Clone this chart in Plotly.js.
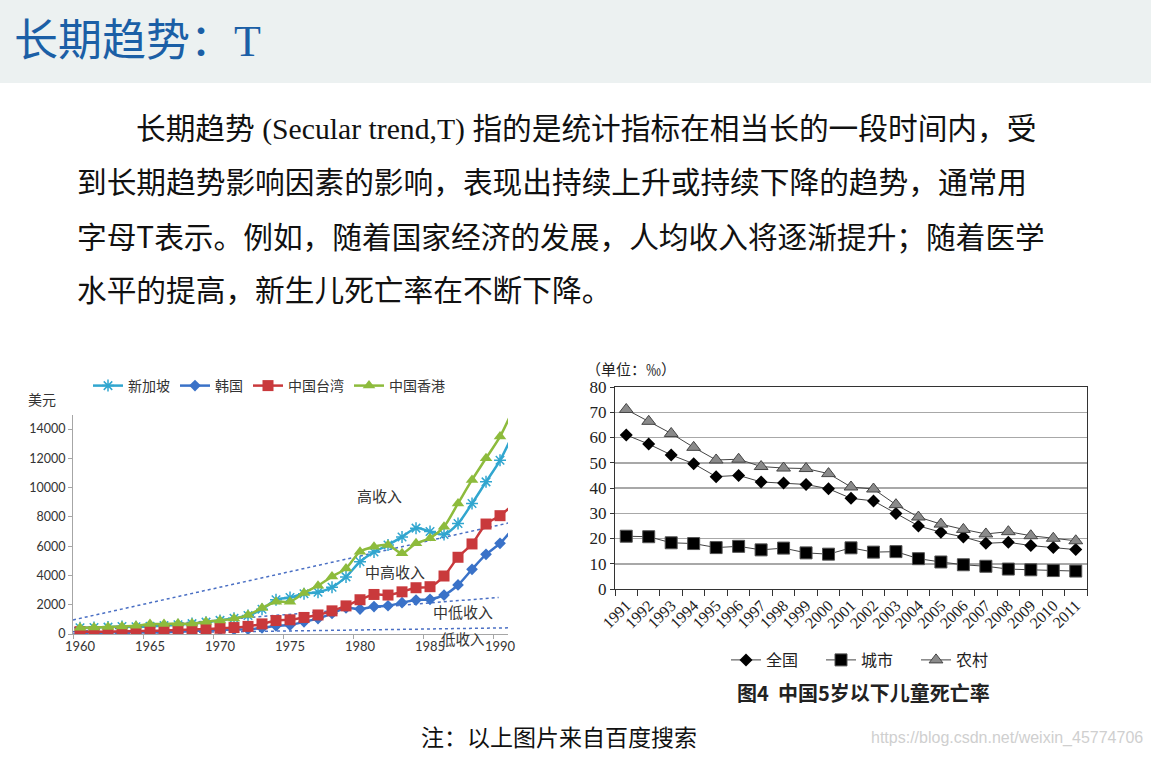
<!DOCTYPE html>
<html><head><meta charset="utf-8">
<script src="https://cdn.plot.ly/plotly-3.0.1.min.js"></script>
<style>html,body{margin:0;padding:0;background:#fff;} #chart{width:1151px;height:758px;}</style>
</head><body><div id="chart"></div>
<script>
// ---- Left chart: GDP per capita (US$) ----
const gdpYears = [1960,1961,1962,1963,1964,1965,1966,1967,1968,1969,1970,1971,1972,1973,1974,1975,1976,1977,1978,1979,1980,1981,1982,1983,1984,1985,1986,1987,1988,1989,1990,1991];
const singapore = [430,450,470,510,490,520,570,630,710,810,930,1070,1260,1690,2340,2490,2750,2850,3190,3900,4930,5600,6080,6630,7230,7000,6800,7540,8910,10390,11860,13800];
const korea     = [160,95,105,145,125,110,135,160,200,245,280,300,325,410,560,610,830,1050,1400,1780,1700,1870,1930,2140,2320,2370,2660,3350,4420,5440,6190,7300];
const taiwan    = [160,150,160,180,200,220,240,270,300,340,390,440,520,690,920,970,1130,1300,1580,1920,2340,2700,2660,2880,3160,3230,3960,5240,6150,7510,8080,8900];
const hongkong  = [430,450,480,520,560,680,690,710,710,830,930,1050,1300,1770,2200,2200,2800,3300,3920,4480,5620,5960,6080,5510,6190,6540,7330,8920,10520,12000,13480,15470];
const gdpSeriesNames = ['新加坡','韩国','中国台湾','中国香港'];
const gdpXTicks = [1960,1965,1970,1975,1980,1985,1990];
const gdpYTicks = [0,2000,4000,6000,8000,10000,12000,14000];
const gdpYTickText = ['0','2000','4000','6000','8000','10000','12000','14000'];
// income threshold trend lines (dotted)
const highIncomeX = [1959.5, 1990.6];   const highIncomeY = [960, 7580];
const upperMidX   = [1959.5, 1989.9];   const upperMidY   = [150, 2500];
const lowIncomeX  = [1959.5, 1990.6];   const lowIncomeY  = [0, 420];
const incomeLabels = ['高收入','中高收入','中低收入','低收入'];

// ---- Right chart: under-5 mortality (‰) ----
const mortYears = [1991,1992,1993,1994,1995,1996,1997,1998,1999,2000,2001,2002,2003,2004,2005,2006,2007,2008,2009,2010,2011];
const mortYearLabels = ['1991','1992','1993','1994','1995','1996','1997','1998','1999','2000','2001','2002','2003','2004','2005','2006','2007','2008','2009','2010','2011'];
const national = [61.0,57.4,53.1,49.6,44.5,45.0,42.4,42.0,41.4,39.7,35.9,34.9,29.9,25.0,22.5,20.6,18.1,18.5,17.2,16.4,15.6];
const urban    = [20.9,20.7,18.3,18.0,16.4,16.9,15.5,16.2,14.3,13.8,16.3,14.6,14.8,12.0,10.7,9.6,9.0,7.9,7.6,7.3,7.1];
const rural    = [71.1,66.4,61.6,56.1,51.1,51.4,48.5,47.9,47.7,45.7,40.4,39.6,33.4,28.5,25.7,23.6,21.8,22.7,21.1,20.1,19.1];
const mortSeriesNames = ['全国','城市','农村'];
const mortBoundaries = [1990.5,1991.5,1992.5,1993.5,1994.5,1995.5,1996.5,1997.5,1998.5,1999.5,2000.5,2001.5,2002.5,2003.5,2004.5,2005.5,2006.5,2007.5,2008.5,2009.5,2010.5,2011.5];
const gdpBoundaries = [1959.5,1964.5,1969.5,1974.5,1979.5,1984.5,1989.5];

const W = 1151, H = 758;
const px = x => x / W;
const py = y => 1 - y / H;

const CJK = "'Noto Sans CJK SC', sans-serif";
const SERIF = "'Liberation Serif', 'Noto Sans CJK SC', serif";

const traces = [
  {x: highIncomeX, y: highIncomeY, type:'scatter', mode:'lines', line:{color:'#4a6fc4', width:1.5, dash:'dot'}, showlegend:false, hoverinfo:'skip', xaxis:'x', yaxis:'y'},
  {x: upperMidX, y: upperMidY, type:'scatter', mode:'lines', line:{color:'#4a6fc4', width:1.5, dash:'dot'}, showlegend:false, hoverinfo:'skip', xaxis:'x', yaxis:'y'},
  {x: lowIncomeX, y: lowIncomeY, type:'scatter', mode:'lines', line:{color:'#4a6fc4', width:1.5, dash:'dot'}, showlegend:false, hoverinfo:'skip', xaxis:'x', yaxis:'y'},
  {x: gdpYears, y: singapore, name: gdpSeriesNames[0], type:'scatter', mode:'lines+markers', line:{color:'#31a6cf', width:2.5, shape:'spline', smoothing:0.8},
   marker:{symbol:'asterisk-open', size:10, color:'#31a6cf', line:{color:'#31a6cf', width:1.5}}, xaxis:'x', yaxis:'y', legend:'legend'},
  {x: gdpYears, y: korea, name: gdpSeriesNames[1], type:'scatter', mode:'lines+markers', line:{color:'#3a72c8', width:2.5, shape:'spline', smoothing:0.8},
   marker:{symbol:'diamond', size:9, color:'#3a72c8'}, xaxis:'x', yaxis:'y', legend:'legend'},
  {x: gdpYears, y: taiwan, name: gdpSeriesNames[2], type:'scatter', mode:'lines+markers', line:{color:'#c9393c', width:2.5, shape:'spline', smoothing:0.8},
   marker:{symbol:'square', size:11, color:'#c9393c'}, xaxis:'x', yaxis:'y', legend:'legend'},
  {x: gdpYears, y: hongkong, name: gdpSeriesNames[3], type:'scatter', mode:'lines+markers', line:{color:'#8dbb3c', width:2.5, shape:'spline', smoothing:0.8},
   marker:{symbol:'triangle-up', size:11, color:'#8dbb3c'}, xaxis:'x', yaxis:'y', legend:'legend'},

  {x: mortYears, y: national, name: mortSeriesNames[0], type:'scatter', mode:'lines+markers', line:{color:'#444', width:1},
   marker:{symbol:'diamond', size:10, color:'#000'}, xaxis:'x2', yaxis:'y2', legend:'legend2'},
  {x: mortYears, y: urban, name: mortSeriesNames[1], type:'scatter', mode:'lines+markers', line:{color:'#444', width:1},
   marker:{symbol:'square', size:12, color:'#000', line:{color:'#555', width:1}}, xaxis:'x2', yaxis:'y2', legend:'legend2'},
  {x: mortYears, y: rural, name: mortSeriesNames[2], type:'scatter', mode:'lines+markers', line:{color:'#444', width:1},
   marker:{symbol:'triangle-up', size:12, color:'#8a8a8a', line:{color:'#444', width:1}}, xaxis:'x2', yaxis:'y2', legend:'legend2'}
];

const ann = (text, x, y, size, opts={}) => Object.assign({
  text, x: px(x), y: py(y), xref:'paper', yref:'paper', showarrow:false,
  xanchor:'left', yanchor:'middle', font:{family:CJK, size, color:'#111'}
}, opts);

const bodyLines = [
  "长期趋势<span style=\"font-family:'Liberation Serif'\"> (Secular trend,T) </span>指的是统计指标在相当长的一段时间内，受",
  "到长期趋势影响因素的影响，表现出持续上升或持续下降的趋势，通常用",
  "字母T表示。例如，随着国家经济的发展，人均收入将逐渐提升；随着医学",
  "水平的提高，新生儿死亡率在不断下降。"
];

const annotations = [
  ann("长期趋势：<span style=\"font-family:'Liberation Serif'\">T</span>", 12, 37, 44, {font:{family:CJK, size:44, color:'#1b5fa6'}}),
  ann(bodyLines[0], 134, 126, 29.7),
  ann(bodyLines[1], 75, 181, 29.7),
  ann(bodyLines[2], 75, 235, 29.7),
  ann(bodyLines[3], 75, 288, 29.7),
  ann("注：以上图片来自百度搜索", 419, 736, 23),
  ann("https://blog.csdn.net/weixin_45774706", 869, 738, 16, {font:{family:"'Liberation Sans Narrow', 'Liberation Sans', sans-serif", size:16, color:'#cfcfcf'}}),
  // left chart labels
  ann("美元", 26, 399, 14, {font:{family:CJK, size:14, color:'#333'}}),
  ann(incomeLabels[0], 380, 495, 15, {xanchor:'center', font:{family:CJK, size:15, color:'#333'}}),
  ann(incomeLabels[1], 395, 571, 15, {xanchor:'center', font:{family:CJK, size:15, color:'#333'}}),
  ann(incomeLabels[2], 463, 611, 15, {xanchor:'center', font:{family:CJK, size:15, color:'#333'}}),
  ann(incomeLabels[3], 463, 638, 14.5, {xanchor:'center', font:{family:CJK, size:14.5, color:'#333'}}),
  // right chart labels
  ann("（单位：‰）", 584, 369, 15, {font:{family:CJK, size:15, color:'#222'}}),
  ann("<b>图4  中国5岁以下儿童死亡率</b>", 863, 692, 20, {xanchor:'center', font:{family:CJK, size:20, color:'#222'}})
];

const layout = {
  width: W, height: H, margin:{l:0, r:0, t:0, b:0},
  paper_bgcolor:'#ffffff', plot_bgcolor:'rgba(0,0,0,0)',
  font:{family:CJK, color:'#222'},
  shapes:[
    {type:'rect', xref:'paper', yref:'paper', x0:0, x1:1, y0:py(83), y1:1, fillcolor:'#ecf1f1', line:{width:0}, layer:'below'}
  ],
  annotations,
  xaxis:{domain:[px(73), px(508)], range:[1959.5, 1990.57], anchor:'y',
    tickmode:'array', tickvals:gdpXTicks, ticks:'', showgrid:false, zeroline:false,
    showline:true, linecolor:'#a6a6a6', linewidth:1,
    tickfont:{family:"Lato, 'Liberation Sans', sans-serif", size:13, color:'#333'},
    minor:{tickmode:'array', tickvals:gdpBoundaries, ticks:'outside', ticklen:4, tickcolor:'#a6a6a6', showgrid:false}},
  yaxis:{domain:[py(634), py(415)], range:[0, 14956], anchor:'x',
    tickmode:'array', tickvals:gdpYTicks, ticktext:gdpYTickText, ticks:'outside', ticklen:4, tickcolor:'#a6a6a6',
    showgrid:false, zeroline:false, showline:true, linecolor:'#a6a6a6', linewidth:1,
    tickfont:{family:"Lato, 'Liberation Sans', sans-serif", size:12.5, color:'#333'}},
  xaxis2:{domain:[px(615), px(1087)], range:[1990.5, 2011.5], anchor:'y2',
    tickmode:'array', tickvals:mortYears, ticktext:mortYearLabels, tickangle:-45, ticks:'',
    showgrid:false, zeroline:false, showline:true, mirror:true, linecolor:'#333', linewidth:1,
    tickfont:{family:SERIF, size:16, color:'#222'},
    minor:{tickmode:'array', tickvals:mortBoundaries, ticks:'outside', ticklen:6, tickcolor:'#333', showgrid:false}},
  yaxis2:{domain:[py(589), py(387)], range:[0, 80], anchor:'x2', dtick:10,
    ticks:'outside', ticklen:4, tickcolor:'#333',
    showgrid:true, gridcolor:'#a8a8a8', gridwidth:1.5, zeroline:false,
    showline:true, mirror:true, linecolor:'#333', linewidth:1,
    tickfont:{family:SERIF, size:17, color:'#222'}},
  legend:{orientation:'h', x:px(88), y:py(386), xanchor:'left', yanchor:'middle',
    bgcolor:'rgba(0,0,0,0)', font:{family:CJK, size:14, color:'#333'}, itemwidth:30},
  legend2:{orientation:'h', x:px(726), y:py(660), xanchor:'left', yanchor:'middle',
    bgcolor:'rgba(0,0,0,0)', font:{family:CJK, size:16, color:'#222'}, itemwidth:30,
    entrywidth:50, entrywidthmode:'pixels'}
};

Plotly.newPlot('chart', traces, layout, {displayModeBar:false, staticPlot:true});
</script>
</body></html>
